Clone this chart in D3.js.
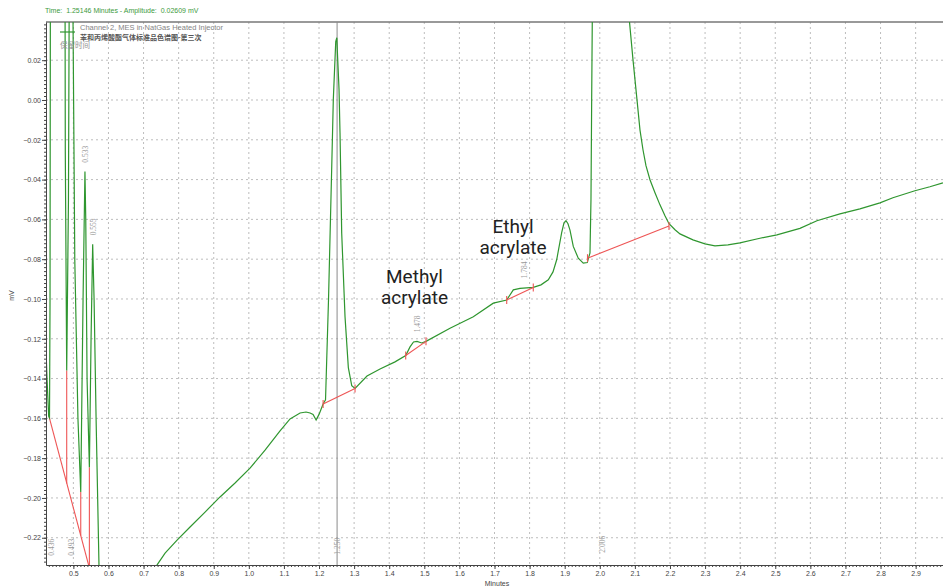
<!DOCTYPE html>
<html>
<head>
<meta charset="utf-8">
<script src="https://cdn.jsdelivr.net/npm/d3@7"></script>
<style>
  body { margin: 0; background: #fff; }
  svg { display: block; font-family: "Liberation Sans", Arial, sans-serif; }
</style>
</head>
<body>
<div id="chart"></div>
<script>
// chromatogram (minutes, mV)
var traceX = [0.422, 0.425, 0.4297, 0.432, 0.4335, 0.436,
  0.4764, 0.477, 0.481, 0.486, 0.4934, 0.499, 0.504, 0.513, 0.521,
  0.5276, 0.533, 0.5353, 0.539, 0.5456, 0.5504, 0.555, 0.559, 0.5647, 0.573, 0.58,
  0.62, 0.70, 0.7387, 0.7613, 0.7955, 0.8325, 0.8752, 0.9179, 0.9607, 1.0034, 1.0462, 1.0889,
  1.1174, 1.1459, 1.163, 1.1746, 1.183, 1.1917, 1.200, 1.2116,
  1.2185, 1.2270, 1.2362, 1.2407, 1.2476, 1.2507, 1.2530, 1.2570, 1.2598, 1.2646, 1.2741, 1.2835, 1.2932, 1.3026,
  1.3367, 1.3738, 1.4165, 1.4470, 1.4593, 1.4692, 1.4792, 1.4926, 1.5048, 1.5732, 1.6396, 1.6966, 1.7348,
  1.7536, 1.7727, 1.8105, 1.8325, 1.8533, 1.8667, 1.8772, 1.8914, 1.8980, 1.9037, 1.9094, 1.9151, 1.9245,
  1.9387, 1.9530, 1.9644, 1.9721, 1.9749, 1.9769, 1.9786, 1.99, 2.03, 2.07,
  2.0846, 2.0946, 2.1060, 2.1145, 2.1231, 2.1316, 2.1430, 2.1573, 2.1715, 2.1858, 2.1972, 2.2143, 2.2285,
  2.2655, 2.2997, 2.3282, 2.3652, 2.3994, 2.4564, 2.5048, 2.5704, 2.6188, 2.6843, 2.7413, 2.7983, 2.8353,
  2.8980, 2.9407, 2.9778];
var traceY = [-0.1255, -0.1406, -0.159, -0.1597, -0.100, 0.30,
  0.04, -0.026, -0.136, -0.05, 0.30, 0.04, -0.08, -0.16, -0.197,
  -0.10, -0.036, -0.06, -0.14, -0.1846, -0.12, -0.0725, -0.10, -0.16, -0.234, -0.26,
  -0.30, -0.27, -0.2336, -0.2277, -0.2212, -0.2146, -0.2071, -0.1995, -0.1925, -0.1850, -0.1760, -0.1663,
  -0.1603, -0.1573, -0.1568, -0.1573, -0.158, -0.1608, -0.158, -0.1528,
  -0.1507, -0.1004, -0.0336, 0.0002, 0.0293, 0.0313, 0.0213, 0.0052, -0.0165, -0.0668, -0.1090, -0.1345, -0.1436, -0.1450,
  -0.1387, -0.1352, -0.1316, -0.1284, -0.1241, -0.1216, -0.1213, -0.1221, -0.1213, -0.1147, -0.1089, -0.1021, -0.1005,
  -0.0954, -0.0947, -0.0942, -0.0929, -0.0904, -0.0864, -0.0803, -0.0667, -0.0617, -0.0607, -0.0622, -0.0654, -0.0736,
  -0.0795, -0.0820, -0.0817, -0.0768, -0.0502, 0.0002, 0.0392, 0.30, 0.50, 0.30,
  0.0394, 0.0203, 0.0002, -0.0150, -0.0250, -0.0330, -0.0401, -0.0466, -0.0527, -0.0582, -0.0622, -0.0652, -0.0673,
  -0.0703, -0.0723, -0.0733, -0.0728, -0.0718, -0.0695, -0.0678, -0.0645, -0.0607, -0.0572, -0.0547, -0.0517, -0.0491,
  -0.0456, -0.0436, -0.0416];

// integration baselines [x1, y1, x2, y2]
var baselines = [[1.2116, -0.1528, 1.3026, -0.1450],
  [1.4470, -0.1284, 1.5048, -0.1213],
  [1.7348, -0.1005, 1.8105, -0.0942],
  [1.9650, -0.0795, 2.1972, -0.0633]];
var firstBaseline = [0.431, -0.1594, 0.56, -0.2447];
var dropX = [0.481, 0.521, 0.5456];
var dropTop = [-0.136, -0.197, -0.1846];
var dropBottom = [-0.1927, -0.2189, -0.2355];

// retention time labels
var rtText = ["0.436", "0.493", "0.533", "0.555", "1.250", "1.478", "1.784", "2.006"];
var rtX = [0.436, 0.493, 0.533, 0.555, 1.250, 1.478, 1.784, 2.006];
var rtY = [-0.229, -0.229, -0.036, -0.0725, -0.2285, -0.1213, -0.0942, -0.2275];
var rtAbove = [false, false, true, true, false, true, true, false];

var xTicks = d3.range(5, 30).map(function(d) { return d / 10; });
var yTicks = d3.range(-11, 2).map(function(d) { return d * 0.02; });
var cursorTime = 1.25146;

var svgWidth = 943, svgHeight = 588;
var margin = { top: 22, right: 0, bottom: 23, left: 46 };
var width = svgWidth - margin.left - margin.right;
var height = svgHeight - margin.top - margin.bottom;

var svg = d3.select("#chart").append("svg")
  .attr("width", svgWidth)
  .attr("height", svgHeight);

var x = d3.scaleLinear().domain([0.422, 2.978]).range([0, width]);
var y = d3.scaleLinear().domain([-0.2337, 0.0392]).range([height, 0]);

var g = svg.append("g").attr("transform", "translate(" + margin.left + "," + margin.top + ")");

svg.append("defs").append("clipPath").attr("id", "clip")
  .append("rect").attr("width", width).attr("height", height);

// grid
g.selectAll(".vgrid").data(xTicks).enter().append("line")
  .attr("x1", d => x(d)).attr("x2", d => x(d))
  .attr("y1", 0).attr("y2", height)
  .attr("stroke", "#bdbdbd").attr("stroke-dasharray", "2,3");
g.selectAll(".hgrid").data(yTicks).enter().append("line")
  .attr("x1", 0).attr("x2", width)
  .attr("y1", d => y(d)).attr("y2", d => y(d))
  .attr("stroke", "#bdbdbd").attr("stroke-dasharray", "2,3");

// top border
g.append("line").attr("x1", 0).attr("x2", width).attr("y1", 0).attr("y2", 0)
  .attr("stroke", "#777").attr("stroke-width", 1.5);

var plot = g.append("g").attr("clip-path", "url(#clip)");

// cursor line
plot.append("line")
  .attr("x1", x(cursorTime)).attr("x2", x(cursorTime))
  .attr("y1", 0).attr("y2", height)
  .attr("stroke", "#8a8a8a").attr("stroke-width", 1);

var red = "#ee5555";
plot.append("line")
  .attr("x1", x(firstBaseline[0])).attr("y1", y(firstBaseline[1]))
  .attr("x2", x(firstBaseline[2])).attr("y2", y(firstBaseline[3]))
  .attr("stroke", red).attr("stroke-width", 1.1);
plot.selectAll(".drop").data(dropX).enter().append("line")
  .attr("x1", d => x(d)).attr("x2", d => x(d))
  .attr("y1", (d, i) => y(dropTop[i])).attr("y2", (d, i) => y(dropBottom[i]))
  .attr("stroke", red).attr("stroke-width", 1.1);

// main trace
var pts = traceX.map(function(d, i) { return [d, traceY[i]]; });
var line = d3.line().x(d => x(d[0])).y(d => y(d[1]));
plot.append("path").datum(pts)
  .attr("d", line)
  .attr("fill", "none")
  .attr("stroke", "#2f962f")
  .attr("stroke-width", 1.2);

plot.selectAll(".base").data(baselines).enter().append("line")
  .attr("x1", d => x(d[0])).attr("y1", d => y(d[1]))
  .attr("x2", d => x(d[2])).attr("y2", d => y(d[3]))
  .attr("stroke", red).attr("stroke-width", 1.1);
baselines.forEach(function(b) {
  [[b[0], b[1]], [b[2], b[3]]].forEach(function(p) {
    plot.append("line")
      .attr("x1", x(p[0])).attr("x2", x(p[0]))
      .attr("y1", y(p[1]) - 4).attr("y2", y(p[1]) + 4)
      .attr("stroke", red).attr("stroke-width", 1.1);
  });
});

// retention labels
g.selectAll(".rt").data(rtText).enter().append("text")
  .attr("transform", function(d, i) {
    var py = y(rtY[i]) - (rtAbove[i] ? 9 : 0);
    return "translate(" + (x(rtX[i]) + 3) + "," + py + ") rotate(-90)";
  })
  .attr("font-family", "'Liberation Serif', serif")
  .attr("font-size", 7.5)
  .attr("fill", "#9a9a9a")
  .text(d => d);

// axes
var yAxis = g.append("g")
  .call(d3.axisLeft(y).tickValues(yTicks).tickFormat(d3.format(".2f")).tickSize(4).tickSizeOuter(0));
g.append("g")
  .call(d3.axisLeft(y).tickValues(d3.range(-116, 20).map(d => d * 0.002)).tickFormat("").tickSize(2).tickSizeOuter(0))
  .select(".domain").remove();
var xAxis = g.append("g").attr("transform", "translate(0," + height + ")")
  .call(d3.axisBottom(x).tickValues(xTicks).tickFormat(d3.format(".1f")).tickSize(4).tickSizeOuter(0));
g.append("g").attr("transform", "translate(0," + height + ")")
  .call(d3.axisBottom(x).tickValues(d3.range(43, 298).map(d => d / 100)).tickFormat("").tickSize(2).tickSizeOuter(0))
  .select(".domain").remove();
g.selectAll(".domain").attr("stroke", "#444");
g.selectAll(".tick line").attr("stroke", "#444");
g.selectAll(".tick text").attr("font-size", 7).attr("fill", "#444")
  .attr("font-family", "'Liberation Sans', Arial, sans-serif");
yAxis.selectAll(".tick text").attr("x", -5);
xAxis.selectAll(".tick text").attr("y", 6);

// axis titles
svg.append("text")
  .attr("transform", "translate(14," + (margin.top + height / 2 + 2) + ") rotate(-90)")
  .attr("text-anchor", "middle").attr("font-size", 7).attr("fill", "#444")
  .text("mV");
svg.append("text")
  .attr("x", 497).attr("y", 586)
  .attr("text-anchor", "middle").attr("font-size", 7).attr("fill", "#444")
  .text("Minutes");

// header
svg.append("text")
  .attr("x", 45).attr("y", 13)
  .attr("font-size", 7).attr("fill", "#3d9a3d")
  .attr("xml:space", "preserve")
  .text("Time:  1.25146 Minutes - Amplitude:  0.02609 mV");

// legend
svg.append("line").attr("x1", 60).attr("x2", 75).attr("y1", 32).attr("y2", 32)
  .attr("stroke", "#2f962f").attr("stroke-width", 1.2);
svg.append("text").attr("x", 80).attr("y", 30)
  .attr("font-size", 7.5).attr("fill", "#858585")
  .text("Channel 2, MES in NatGas Heated Injector");
svg.append("text").attr("x", 80).attr("y", 40)
  .attr("font-size", 7).attr("font-weight", "bold").attr("fill", "#555")
  .attr("font-family", "'Noto Sans CJK SC', sans-serif")
  .text("苯和丙烯酸酯气体标准品色谱图-第三次");
svg.append("text").attr("x", 60).attr("y", 48)
  .attr("font-size", 7.5).attr("fill", "#909090")
  .attr("font-family", "'Noto Sans CJK SC', sans-serif")
  .text("保留时间");

// compound annotations
var notes = [{ t: 1.472, v: -0.0919, lines: ["Methyl", "acrylate"] },
  { t: 1.7527, v: -0.0667, lines: ["Ethyl", "acrylate"] }];
notes.forEach(function(n) {
  var txt = g.append("text")
    .attr("text-anchor", "middle")
    .attr("font-family", "Roboto, sans-serif")
    .attr("font-size", 19).attr("fill", "#222");
  n.lines.forEach(function(l, i) {
    txt.append("tspan").attr("x", x(n.t)).attr("y", y(n.v) + i * 21).text(l);
  });
});
</script>
</body>
</html>
